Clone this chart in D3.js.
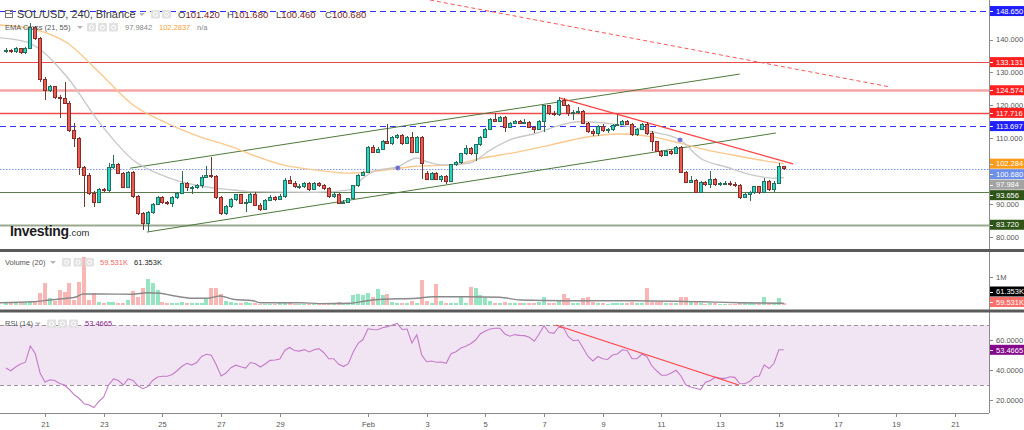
<!DOCTYPE html>
<html>
<head>
<meta charset="utf-8">
<script src="https://cdn.jsdelivr.net/npm/d3@7"></script>
<style>
html, body { margin: 0; padding: 0; background: #fff; }
svg { display: block; font-family: "Liberation Sans", Arial, sans-serif; }
</style>
</head>
<body>
<div id="chart"></div>
<script>
// SOL/USD 4h candles, Binance

const firstCandle = "2022-01-19T16:00:00Z";

// [open, high, low, close]
const ohlc = [
  [136.5,137.3,136.0,136.8],[136.8,137.2,135.9,136.3],[136.3,137.6,136.0,137.2],[137.2,137.5,135.6,135.9],
  [135.9,137.6,135.7,137.3],[137.3,145.0,137.0,143.5],[143.5,144.0,140.0,140.4],[140.4,140.9,127.2,128.0],
  [128.0,128.6,121.6,124.6],[124.6,126.2,123.9,125.6],[125.6,126.0,121.8,122.4],[122.4,123.0,116.1,122.0],
  [122.0,127.0,120.3,120.7],[120.7,121.2,112.0,112.5],[112.5,114.6,107.3,110.0],[110.0,110.4,98.8,101.0],
  [101.0,101.5,89.0,98.8],[98.8,99.4,92.8,93.3],[93.3,94.0,89.0,90.6],[90.6,94.8,90.2,94.3],
  [94.3,94.8,93.6,94.0],[94.0,102.5,93.7,101.2],[101.2,104.9,100.6,102.0],[102.0,102.4,99.0,99.4],
  [99.4,99.8,94.8,95.1],[95.1,99.9,94.8,99.5],[99.5,99.9,92.0,92.3],[92.3,92.8,86.8,87.1],
  [87.1,87.6,82.1,84.2],[84.2,87.8,81.7,87.4],[87.4,90.4,87.0,90.0],[90.0,92.4,89.6,92.0],
  [92.0,92.6,89.9,90.4],[90.4,91.0,89.8,90.2],[90.2,92.4,89.0,92.0],[92.0,93.7,91.6,93.3],
  [93.3,100.0,93.0,96.3],[96.3,96.8,94.0,94.9],[94.9,95.6,93.2,95.1],[95.1,96.0,94.6,95.5],
  [95.5,98.8,95.0,98.2],[98.2,101.5,97.8,98.8],[98.8,104.3,98.0,98.4],[98.4,98.8,91.6,92.1],
  [92.1,92.5,86.7,87.2],[87.2,89.6,86.8,89.2],[89.2,91.9,88.8,91.5],[91.5,93.2,91.0,92.8],
  [92.8,93.2,89.9,90.3],[90.3,91.4,87.5,90.6],[90.6,93.5,90.2,92.8],[92.8,93.6,89.4,89.7],
  [89.7,90.2,87.9,88.5],[88.5,91.6,88.2,91.2],[91.2,92.8,90.8,92.0],[92.0,92.5,91.0,91.5],
  [91.5,93.2,91.2,92.4],[92.4,97.8,92.0,97.3],[97.3,98.4,96.0,96.4],[96.4,96.9,94.8,95.2],
  [95.2,96.0,94.6,95.4],[95.4,96.8,95.0,96.4],[96.4,96.8,94.0,94.5],[94.5,96.6,94.2,96.2],
  [96.2,96.7,95.2,95.6],[95.6,96.0,94.4,94.8],[94.8,95.2,91.9,92.4],[92.4,93.6,91.8,93.0],
  [93.0,93.4,90.0,90.3],[90.3,91.2,89.9,90.6],[90.6,92.0,90.2,91.8],[91.8,95.8,91.4,95.5],
  [95.5,99.0,95.2,98.8],[98.8,100.2,98.4,99.7],[99.7,107.6,99.4,107.3],[107.3,107.8,105.4,105.8],
  [105.8,107.2,105.4,106.7],[106.7,109.4,106.4,109.1],[109.1,114.4,108.2,108.5],[108.5,110.6,108.0,110.3],
  [110.3,111.4,109.8,110.9],[110.9,111.3,108.1,108.5],[108.5,110.8,108.2,110.3],[110.3,112.0,105.4,105.8],
  [105.8,110.7,105.4,110.3],[110.3,110.6,97.6,102.2],[99.4,100.0,97.2,97.6],[97.6,99.8,97.2,99.4],
  [99.4,99.8,97.2,97.6],[97.6,98.9,96.8,98.5],[98.5,98.9,96.2,97.0],[97.0,102.2,96.7,101.9],
  [101.9,103.0,101.5,102.5],[102.5,105.6,102.2,105.3],[105.3,107.8,105.0,107.0],[107.0,107.4,105.0,105.3],
  [105.3,108.3,103.0,108.0],[108.0,110.6,107.7,110.3],[110.3,113.1,110.0,112.8],[112.8,116.1,112.5,115.8],
  [115.8,117.6,115.0,115.2],[115.2,116.8,114.9,116.4],[116.4,116.8,112.0,113.4],[113.4,114.9,113.0,114.6],
  [114.6,115.5,114.2,115.2],[115.2,115.4,114.2,114.6],[114.6,115.8,114.2,114.8],[114.8,115.1,113.0,113.4],
  [113.4,113.8,111.6,112.8],[112.8,115.5,112.5,115.2],[115.2,120.1,111.8,119.8],[119.8,120.2,117.2,117.6],
  [117.6,118.2,116.8,117.2],[117.2,122.5,116.9,121.6],[121.6,122.2,119.8,120.1],[120.1,120.5,116.8,117.6],
  [117.6,118.6,115.6,117.8],[117.8,119.6,117.4,118.2],[118.2,118.6,114.2,114.6],[114.6,115.0,111.5,111.9],
  [111.9,112.8,110.6,111.3],[111.3,114.0,110.8,113.7],[113.7,114.2,111.9,112.4],[112.4,113.2,111.6,112.7],
  [112.7,114.4,112.3,114.0],[114.0,117.0,113.6,114.3],[114.3,115.6,113.9,115.2],[115.2,115.6,114.0,114.3],
  [114.3,114.7,110.6,111.0],[111.0,113.0,110.8,112.7],[112.7,114.7,112.4,114.3],[114.3,114.8,111.1,111.5],
  [111.5,112.2,106.0,108.9],[108.9,109.3,105.7,106.1],[106.1,106.5,104.4,104.9],[104.9,106.4,104.6,106.0],
  [106.0,106.4,105.0,105.5],[105.5,107.7,105.2,107.3],[107.3,107.7,99.4,99.7],[99.7,100.0,96.3,96.7],
  [96.7,98.4,96.4,97.3],[97.3,97.7,93.3,93.6],[93.6,97.0,93.3,96.7],[96.7,97.1,95.6,96.0],
  [96.0,100.0,95.0,97.6],[97.6,98.0,95.4,95.8],[95.8,96.8,95.4,96.2],[96.2,96.9,95.8,96.4],
  [96.4,96.9,95.6,96.0],[96.0,96.6,95.3,95.6],[95.6,96.0,91.4,92.1],[92.1,93.4,91.8,93.0],
  [93.0,94.0,90.8,93.6],[93.6,95.6,93.2,95.2],[95.2,95.6,93.2,93.6],[93.6,97.9,93.3,97.0],
  [97.0,97.4,94.0,94.3],[94.3,96.9,93.6,96.4],[96.4,102.5,96.0,101.42],[101.42,101.68,100.46,100.68]
];

// volume in thousands
const volume = [
  70,60,80,70,60,120,110,430,790,240,150,540,480,790,180,820,1710,180,430,100,
  80,110,90,70,80,180,500,300,610,930,790,540,100,60,60,70,90,70,60,70,
  70,260,620,620,380,140,90,60,80,100,70,60,50,50,40,50,80,100,60,50,
  40,50,40,50,40,60,80,60,90,50,60,360,390,360,430,270,570,360,390,120,
  60,60,70,150,80,890,150,70,750,150,60,70,60,300,80,640,600,360,270,150,
  80,70,90,60,70,60,60,70,80,90,300,80,70,160,390,240,80,60,240,300,
  90,80,60,50,80,60,70,60,90,60,70,610,110,120,90,60,60,80,300,300,
  100,150,60,50,70,60,50,40,50,40,80,60,60,70,80,300,80,80,240,59.531
];

// RSI (14), one value per candle
const rsi = [
  41.4,39.5,42,44,45.2,56,51,38,32,33.5,33,31,30,27,23.5,21,17.5,16.7,15,19,
  22,30,34,33,30,34,33,29.5,27.5,29,33,35.3,35.8,35.8,37,39.5,42.5,44.5,43.3,45,
  49,50.5,49.8,43.5,36,38,41.5,43.2,42.2,41.3,45,44.2,42,44,46.4,46.7,47.3,53,55,53,
  52.6,53.6,52,53.5,54.2,51.5,47.5,47.5,44,42.3,44.2,52,57.8,60.3,67.5,67,66.8,68.2,68.9,70,
  71,67,67.3,58,63.5,50,45.5,46,45.2,45.3,44.5,50.8,52.2,54.7,55.8,57.5,60,64.2,66,67.3,
  67.8,67.8,64,62.5,63.6,63.1,62.9,61.8,59.2,64,69.5,65,64.4,68.5,68,62,59.5,60,54.5,49,
  46,49,47.5,47,50,50.7,53.5,53,47.5,47.5,50.5,49,43,39.5,36.5,36.5,38,39.8,36,30,
  28.6,27.8,27,31.8,33,35.2,34.4,34.4,35.5,35.1,31,30.8,32.3,35.5,36,43.5,41,44.5,53.5,53.4665
];

// indicator lines: [candle index, value]
const ema21 = [
  [-1.2,140.5],[4.3,139.2],[12.5,128.6],[19.2,114.6],[26,103.4],[32.9,98.2],[39.7,95.5],[46.4,94.3],
  [49.9,93.8],[63.6,93.6],[70.3,94.3],[73,97.9],[75.9,100.3],[79.9,101.2],[84,104],[86.1,102.8],
  [89.3,101.9],[94.9,102.5],[99,106.4],[103,109.5],[108.6,111.6],[111.8,113.3],[117.3,115.0],
  [125.5,114.0],[132.3,111.9],[137.8,109.5],[141.9,104],[147.4,101.2],[152.7,98.8],[156.8,97.9],[159,97.9842]
];
const ema55 = [
  [-1.2,144.4],[5.5,143.2],[12.5,139],[19.2,129.8],[26,120.1],[32.9,114.6],[39.7,110.4],[46.4,107.3],
  [49.9,105.2],[56.6,101.9],[63.6,100.3],[70.3,99.4],[77.1,100.3],[84,101.5],[90.8,101.9],[97.5,104],
  [104.5,105.8],[111.2,107.9],[118.8,110.4],[125.5,111.3],[132.3,110.4],[137.8,108.5],[143.3,106.4],
  [148.6,104.9],[154.1,103.4],[159,102.2837]
];
const volumeMA = [
  [-1.2,82],[5.5,118],[9,179],[12.5,239],[14.5,296],[15.8,393],[19.2,393],[26,382],[28.8,439],
  [31.5,418],[34.2,332],[38.2,239],[41.1,239],[43.8,321],[46.4,204],[50.5,154],[51.9,82],[60.1,82],
  [64.2,50],[70.3,61],[73.8,154],[77.1,204],[84,239],[87.3,296],[94.2,296],[101,275],[105.1,179],
  [114.7,154],[128.2,154],[141.9,118],[150,82],[159,61.353]
];
const emaCrosses = [[80.1, 101.0], [137.8, 109.5]];

// drawn levels and trend lines
const levelPrices = [148.65, 133.131, 124.574, 117.716, 113.697, 93.656, 83.72];
const channelUpper = [[25.4, 100.9], [150.0, 129.5]];
const channelLower = [[28.8, 81.5], [157.4, 111.6]];
const downTrend = [[113.3, 122.2], [160.9, 102.2]];
const longDownTrend = [[86.7, 152.0], [180.7, 125.6]];
const rsiTrend = [[112.4, 70], [149.8, 30]];

// axes
const xTickDates = ["2022-01-21","2022-01-23","2022-01-25","2022-01-27","2022-01-29","2022-02-01","2022-02-03",
  "2022-02-05","2022-02-07","2022-02-09","2022-02-11","2022-02-13","2022-02-15","2022-02-17","2022-02-19","2022-02-21"];
const xTickLabels = ["21","23","25","27","29","Feb","3","5","7","9","11","13","15","17","19","21"];
const priceTicks = [80, 90, 100, 110, 120, 130, 140];
const volumeTicks = [1000];
const rsiTicks = [20, 40, 60];


// LAYOUT

const W = 1024, H = 430, AX = 989;
const step = 4 * 3600 * 1000;
const t0 = new Date(firstCandle).getTime();

const x = d3.scaleUtc()
  .domain([new Date("2022-01-21T00:00:00Z"), new Date("2022-02-21T00:00:00Z")])
  .range([45, 955]);
const xi = i => x(new Date(t0 + i * step));
const y = d3.scaleLinear().domain([80, 140]).range([237, 39.5]);
const yv = d3.scaleLinear().domain([0, 1000]).range([305, 277]);
const yr = d3.scaleLinear().domain([20, 60]).range([400, 340]);

const svg = d3.select("#chart").append("svg")
  .attr("width", W)
  .attr("height", H);

svg.append("rect").attr("width", W).attr("height", H).attr("fill", "#fff");

const defs = svg.append("defs");
defs.append("clipPath").attr("id", "clip-main")
  .append("rect").attr("x", 0).attr("y", 0).attr("width", AX).attr("height", 249);
defs.append("clipPath").attr("id", "clip-vol")
  .append("rect").attr("x", 0).attr("y", 252).attr("width", AX).attr("height", 58);
defs.append("clipPath").attr("id", "clip-rsi")
  .append("rect").attr("x", 0).attr("y", 312.5).attr("width", AX).attr("height", 100.5);

const main = svg.append("g").attr("clip-path", "url(#clip-main)");
const vol  = svg.append("g").attr("clip-path", "url(#clip-vol)");
const rsiG = svg.append("g").attr("clip-path", "url(#clip-rsi)");

const segLine = (g, pts, yScale, color, width, dash) =>
  g.append("line")
    .attr("x1", xi(pts[0][0])).attr("y1", yScale(pts[0][1]))
    .attr("x2", xi(pts[1][0])).attr("y2", yScale(pts[1][1]))
    .attr("stroke", color)
    .attr("stroke-width", width)
    .attr("stroke-dasharray", dash);


// MAIN PANEL

const levelStyle = {
  148.65:  {color: "#3030ff", width: 1,   dash: "6,4"},
  133.131: {color: "#e84a4a", width: 1,   dash: null},
  124.574: {color: "#f6a3a3", width: 2.5, dash: null},
  117.716: {color: "#f04c4c", width: 1.5, dash: null},
  113.697: {color: "#3030ff", width: 1,   dash: "6,4"},
  93.656:  {color: "#5b7b4c", width: 1.2, dash: null},
  83.72:   {color: "#9aa890", width: 2,   dash: null}
};

main.selectAll("line.level").data(levelPrices).join("line")
  .attr("class", "level")
  .attr("x1", 0).attr("x2", AX)
  .attr("y1", d => Math.round(y(d)) + 0.5)
  .attr("y2", d => Math.round(y(d)) + 0.5)
  .attr("stroke", d => levelStyle[d].color)
  .attr("stroke-width", d => levelStyle[d].width)
  .attr("stroke-dasharray", d => levelStyle[d].dash);

const lastClose = ohlc[ohlc.length - 1][3];
main.append("line")
  .attr("x1", 0).attr("x2", AX)
  .attr("y1", Math.round(y(lastClose)) + 0.5)
  .attr("y2", Math.round(y(lastClose)) + 0.5)
  .attr("stroke", "#7d9cf0")
  .attr("stroke-width", 1)
  .attr("stroke-dasharray", "1.5,1.5");

segLine(main, channelUpper, y, "#4f7a3c", 1, null);
segLine(main, channelLower, y, "#4f7a3c", 1, null);
segLine(main, downTrend, y, "#ff4040", 1.2, null);
segLine(main, longDownTrend, y, "#ff5555", 1, "4,3");

const emaLine = d3.line()
  .x(d => xi(d[0]))
  .y(d => y(d[1]))
  .curve(d3.curveMonotoneX);

main.append("path").datum(ema55)
  .attr("d", emaLine)
  .attr("fill", "none")
  .attr("stroke", "#fbc98e")
  .attr("stroke-width", 1.4);
main.append("path").datum(ema21)
  .attr("d", emaLine)
  .attr("fill", "none")
  .attr("stroke", "#c9c9c9")
  .attr("stroke-width", 1.4);

const candles = ohlc.map((d, i) => ({i: i, o: d[0], h: d[1], l: d[2], c: d[3], up: d[3] >= d[0]}));

const candleG = main.append("g").attr("shape-rendering", "crispEdges");
candleG.selectAll("line").data(candles).join("line")
  .attr("x1", d => Math.round(xi(d.i)))
  .attr("x2", d => Math.round(xi(d.i)))
  .attr("y1", d => y(d.h))
  .attr("y2", d => y(d.l))
  .attr("stroke", d => d.up ? "#2f6a57" : "#6e3a34")
  .attr("stroke-width", 1);
candleG.selectAll("rect").data(candles).join("rect")
  .attr("x", d => Math.round(xi(d.i)) - 1.5)
  .attr("width", 3)
  .attr("y", d => y(Math.max(d.o, d.c)))
  .attr("height", d => Math.max(1, Math.abs(y(d.o) - y(d.c))))
  .attr("fill", d => d.up ? "#2ad3c3" : "#ea5b52")
  .attr("stroke", d => d.up ? "#22705e" : "#8a2c27")
  .attr("stroke-width", 1);

const crossG = main.selectAll("g.cross").data(emaCrosses).join("g")
  .attr("class", "cross")
  .attr("transform", d => `translate(${xi(d[0])},${y(d[1])})`);
crossG.append("path")
  .attr("d", "M-2.5,0H2.5M0,-2.5V2.5M-1.8,-1.8L1.8,1.8M-1.8,1.8L1.8,-1.8")
  .attr("stroke", "#6a6ad8")
  .attr("stroke-width", 1.2);

// Investing.com logo
const logo = svg.append("text").attr("x", 10).attr("y", 236);
logo.append("tspan").text("Investing")
  .attr("font-size", 14).attr("font-weight", "bold").attr("fill", "#1d1d1d")
  .attr("letter-spacing", -0.3);
logo.append("tspan").text(".com")
  .attr("font-size", 9.5).attr("fill", "#2a2a2a");


// VOLUME PANEL

vol.append("g").attr("shape-rendering", "crispEdges")
  .selectAll("rect").data(candles).join("rect")
  .attr("x", d => Math.round(xi(d.i)) - 2)
  .attr("width", 4)
  .attr("y", d => yv(volume[d.i]))
  .attr("height", d => yv(0) - yv(volume[d.i]))
  .attr("fill", d => d.up ? "#95e5c2" : "#f8b6b4");

vol.append("path").datum(volumeMA)
  .attr("d", d3.line().x(d => xi(d[0])).y(d => yv(d[1])).curve(d3.curveMonotoneX))
  .attr("fill", "none")
  .attr("stroke", "#8a8a8a")
  .attr("stroke-width", 1.4);


// RSI PANEL

rsiG.append("rect")
  .attr("x", 0).attr("width", AX)
  .attr("y", yr(70)).attr("height", yr(30) - yr(70))
  .attr("fill", "#f1e5f3");
rsiG.selectAll("line.band").data([70, 30]).join("line")
  .attr("class", "band")
  .attr("x1", 0).attr("x2", AX)
  .attr("y1", d => Math.round(yr(d)) + 0.5)
  .attr("y2", d => Math.round(yr(d)) + 0.5)
  .attr("stroke", "#9c939c")
  .attr("stroke-dasharray", "4,3");

rsiG.append("path").datum(rsi)
  .attr("d", d3.line().x((d, i) => xi(i)).y(d => yr(d)))
  .attr("fill", "none")
  .attr("stroke", "#c57bc8")
  .attr("stroke-width", 1.1);

segLine(rsiG, rsiTrend, yr, "#ff4040", 1.2, null);


// SEPARATORS AND AXES

svg.append("line")
  .attr("x1", AX + 0.5).attr("x2", AX + 0.5)
  .attr("y1", 0).attr("y2", 413)
  .attr("stroke", "#8a8a8a");
svg.append("line")
  .attr("x1", 0).attr("x2", AX)
  .attr("y1", 413.5).attr("y2", 413.5)
  .attr("stroke", "#8a8a8a");
svg.selectAll("rect.sep").data([249, 309.5]).join("rect")
  .attr("class", "sep")
  .attr("x", 0).attr("width", W)
  .attr("y", d => d).attr("height", 3)
  .attr("fill", "#5a5a5a");

const xAxis = svg.append("g");
xTickDates.forEach((d, k) => {
  const px = Math.round(x(new Date(d + "T00:00:00Z"))) + 0.5;
  xAxis.append("line")
    .attr("x1", px).attr("x2", px)
    .attr("y1", 413).attr("y2", 417)
    .attr("stroke", "#8a8a8a");
  xAxis.append("text")
    .attr("x", px).attr("y", 427)
    .attr("text-anchor", "middle")
    .attr("font-size", 7.5)
    .attr("fill", "#555")
    .text(xTickLabels[k]);
});

const TAG_H = 10, TAG_GAP = 10.5;

// price tags on the right axis
const tagColor = {
  148.65: "#1f1fff", 133.131: "#ff1f1f", 124.574: "#ff1f1f", 117.716: "#ff1f1f",
  113.697: "#1f1fff", 93.656: "#2f5418", 83.72: "#2f5418"
};
const tags = levelPrices.map(p => ({value: p, bg: tagColor[p], fg: "#fff"}));
tags.push({value: ema55[ema55.length - 1][1], bg: "#ff9b1a", fg: "#fff"});
tags.push({value: lastClose, bg: "#6d8fe8", fg: "#fff"});
tags.push({value: ema21[ema21.length - 1][1], bg: "#a3a3a3", fg: "#fff"});
tags.forEach(t => t.y = y(t.value));
tags.sort((a, b) => a.y - b.y);
for (let k = 1; k < tags.length; k++) {
  if (tags[k].y - tags[k - 1].y < TAG_GAP) tags[k].y = tags[k - 1].y + TAG_GAP;
}

const rightTick = (g, py, label) => {
  g.append("line")
    .attr("x1", AX).attr("x2", AX + 4)
    .attr("y1", Math.round(py) + 0.5).attr("y2", Math.round(py) + 0.5)
    .attr("stroke", "#8a8a8a");
  g.append("text")
    .attr("x", AX + 7).attr("y", py + 2.7)
    .attr("font-size", 7.5)
    .attr("fill", "#555")
    .text(label);
};

const axisG = svg.append("g");
// plain price labels that a tag would cover are left out, as on the screen
priceTicks
  .filter(p => tags.every(t => Math.abs(t.y - y(p)) > 7.5))
  .forEach(p => rightTick(axisG, y(p), d3.format(".3f")(p)));
volumeTicks.forEach(v => rightTick(axisG, yv(v), "1M"));
rsiTicks.forEach(r => rightTick(axisG, yr(r), d3.format(".4f")(r)));

const drawTag = (g, py, text, bg, fg) => {
  g.append("rect")
    .attr("x", AX + 1).attr("y", py - TAG_H / 2)
    .attr("width", W - AX - 1).attr("height", TAG_H)
    .attr("fill", bg);
  g.append("line")
    .attr("x1", AX + 1).attr("x2", AX + 4)
    .attr("y1", Math.round(py) + 0.5).attr("y2", Math.round(py) + 0.5)
    .attr("stroke", fg);
  g.append("text")
    .attr("x", AX + 7).attr("y", py + 2.7)
    .attr("font-size", 7.5)
    .attr("fill", fg)
    .text(text);
};

tags.forEach(t => drawTag(axisG, t.y, d3.format(".3f")(t.value), t.bg, t.fg));

const volNow = volume[volume.length - 1];
const volAvg = volumeMA[volumeMA.length - 1][1];
const volTagY = Math.min(yv(volNow), 302);
drawTag(axisG, volTagY - TAG_GAP, d3.format(".3f")(volAvg) + "K", "#000", "#fff");
drawTag(axisG, volTagY, d3.format(".3f")(volNow) + "K", "#ff6f6a", "#fff");
drawTag(axisG, yr(rsi[rsi.length - 1]), d3.format(".4f")(rsi[rsi.length - 1]), "#84088a", "#fff");


// LEGENDS

const legend = svg.append("g");

const iconBoxes = (xs, py) => xs.forEach(px => {
  legend.append("rect")
    .attr("x", px).attr("y", py)
    .attr("width", 9).attr("height", 8.5)
    .attr("rx", 1)
    .attr("fill", "#e2e2e2");
  legend.append("circle")
    .attr("cx", px + 4.5).attr("cy", py + 4.25)
    .attr("r", 2)
    .attr("fill", "none")
    .attr("stroke", "#fff");
});

const caret = (px, py) => legend.append("path")
  .attr("d", `M${px},${py}l3,3l3,-3z`)
  .attr("fill", "#b5b5b5");

const legendText = (px, py, text, size, color) => legend.append("text")
  .attr("x", px).attr("y", py)
  .attr("font-size", size)
  .attr("fill", color)
  .text(text);

// title line
legend.append("rect")
  .attr("x", 5.5).attr("y", 10.5).attr("width", 7).attr("height", 7)
  .attr("fill", "none").attr("stroke", "#777");
legend.append("line")
  .attr("x1", 5.5).attr("x2", 12.5).attr("y1", 13.5).attr("y2", 13.5)
  .attr("stroke", "#777");
legendText(17, 18, "SOL/USD, 240, Binance", 11, "#3a3a3a");
caret(139, 13);
iconBoxes([151, 162], 10);
const ohlcNow = ohlc[ohlc.length - 1];
[["O", ohlcNow[0]], ["H", ohlcNow[1]], ["L", ohlcNow[2]], ["C", ohlcNow[3]]].forEach((d, k) => {
  const t = legend.append("text")
    .attr("x", 178 + k * 49).attr("y", 17.5)
    .attr("font-size", 9.5);
  t.append("tspan").attr("fill", "#444").text(d[0]);
  t.append("tspan").attr("fill", "#7b1b1b").text(d3.format(".3f")(d[1]));
});

// EMA line
legendText(5, 30, "EMA Cross (21, 55)", 7.5, "#555");
caret(77, 26);
iconBoxes([87, 98, 109], 23);
legendText(125, 30, d3.format(".4f")(ema21[ema21.length - 1][1]), 7.5, "#888");
legendText(159, 30, d3.format(".4f")(ema55[ema55.length - 1][1]), 7.5, "#f5a331");
legendText(197, 30, "n/a", 7.5, "#888");

// volume legend
legendText(5, 264.5, "Volume (20)", 7.5, "#555");
caret(50, 261);
iconBoxes([62, 73.5, 85], 258);
legendText(100, 264.5, d3.format(".3f")(volNow) + "K", 7.5, "#f26b66");
legendText(134, 264.5, d3.format(".3f")(volAvg) + "K", 7.5, "#222");

// RSI legend
legendText(5, 326, "RSI (14)", 7.5, "#555");
caret(35, 322.5);
iconBoxes([47, 58, 69], 319.5);
legendText(85, 326, d3.format(".4f")(rsi[rsi.length - 1]), 7.5, "#8a1a8e");
</script>
</body>
</html>
